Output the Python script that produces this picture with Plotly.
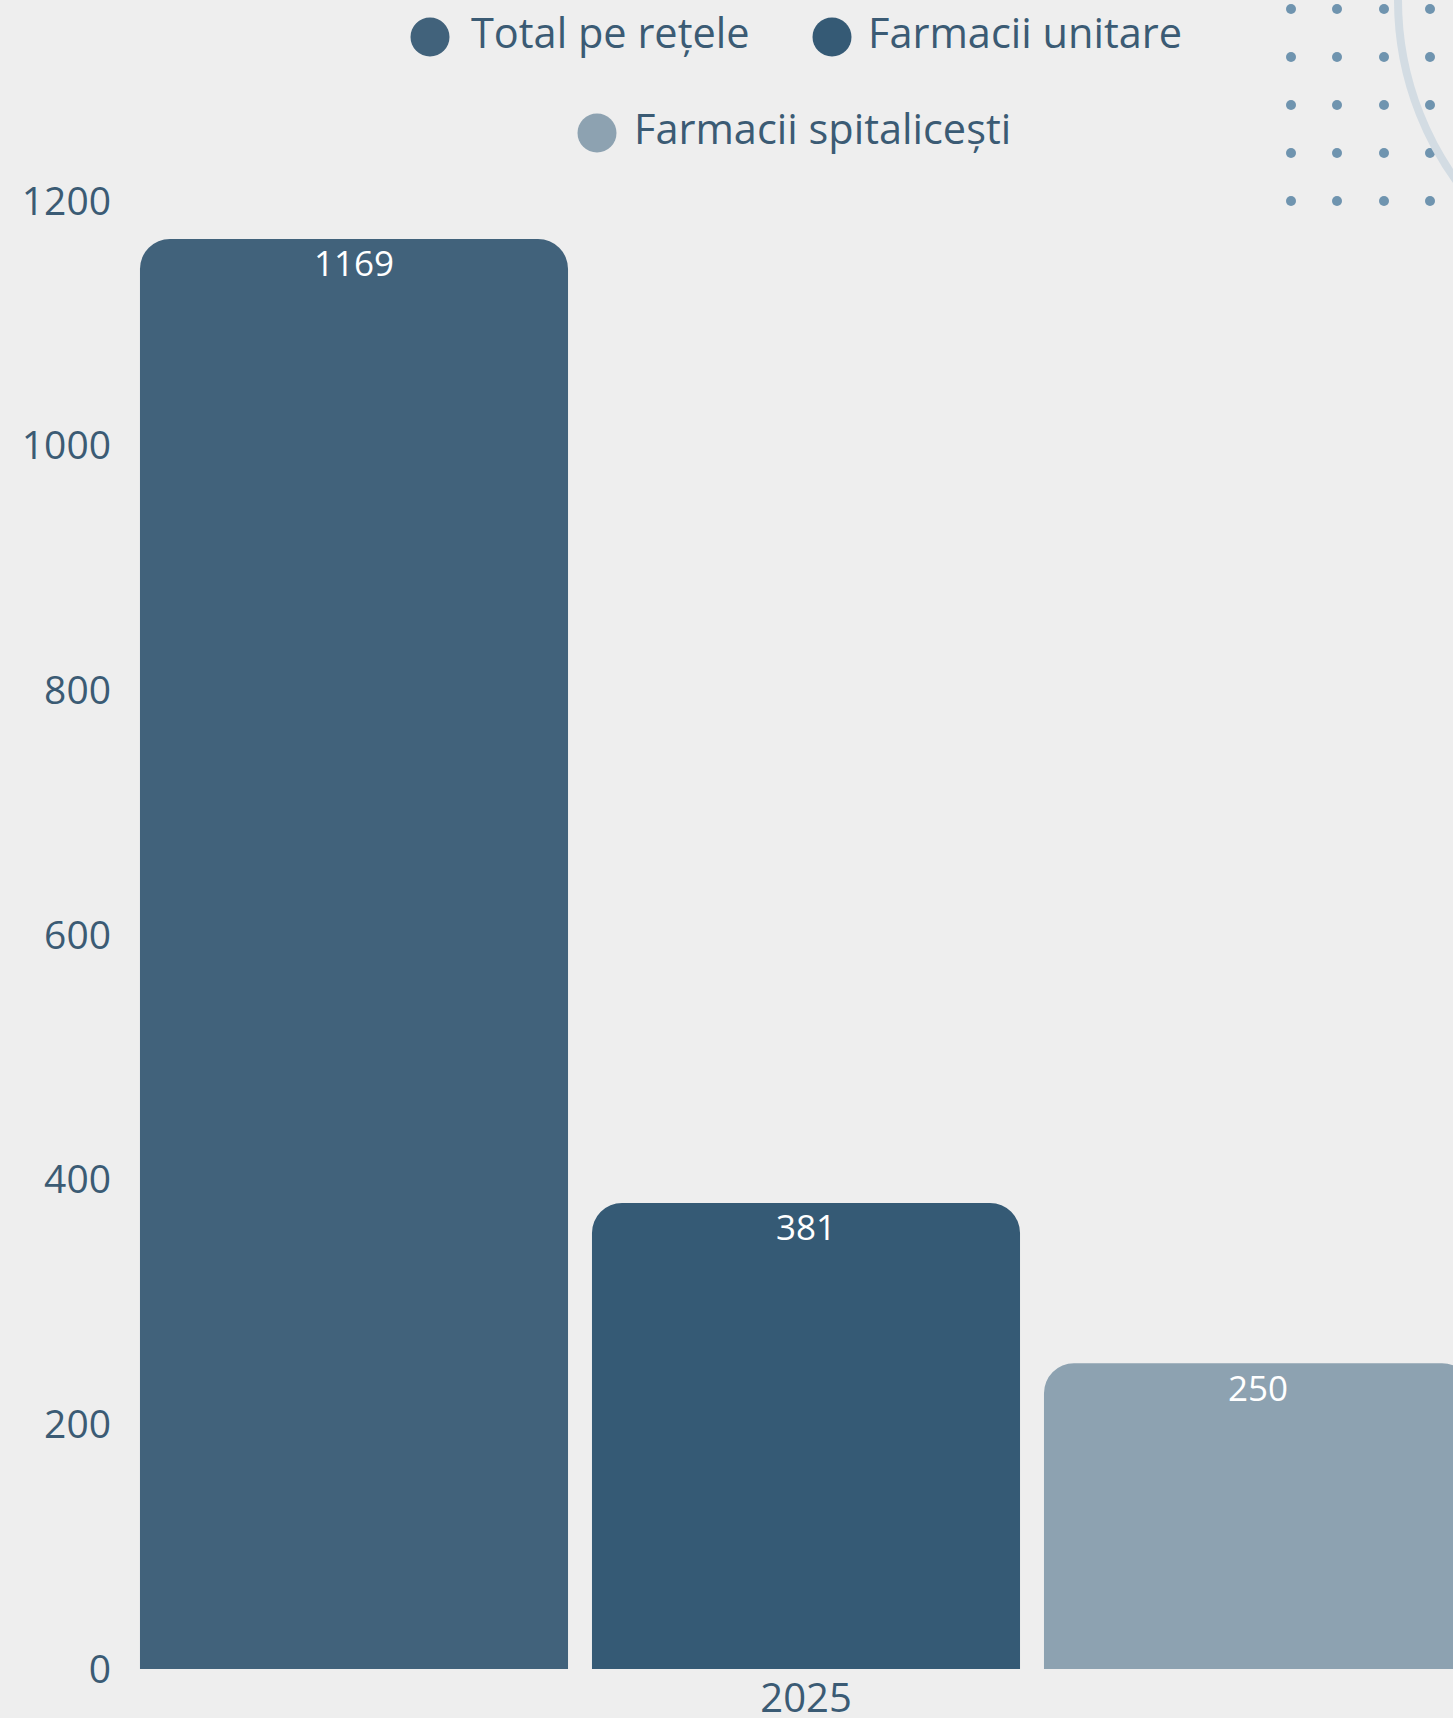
import plotly.graph_objects as go

# Series and values
years = ["2025"]
series_names = ["Total pe rețele", "Farmacii unitare", "Farmacii spitalicești"]
series_values = [[1169], [381], [250]]
series_colors = ["#41627B", "#355A75", "#8DA2B1"]
y_ticks = [0, 200, 400, 600, 800, 1000, 1200]

FONT = "Open Sans"
TEXT_COLOR = "#3B5B74"
W, H = 1453, 1718
ML, MR, MT, MB = 120, 0, 201, 49
PW, PH = W - ML - MR, H - MT - MB

# group of three bars spans 1356 px centred at x=806
GROUP_PX = 1356
CENTRE_PX = 806
SLOT_PX = GROUP_PX / len(series_names)


def fx(x):
    return (x - ML) / PW


def fy(y):
    return (H - MB - y) / PH


fig = go.Figure()
for name, vals, col in zip(series_names, series_values, series_colors):
    fig.add_trace(go.Bar(
        x=years, y=vals, name=name,
        marker=dict(color=col, line=dict(width=0)),
        showlegend=False,
    ))

shapes = []
annotations = []

# value labels just under the top of each bar (x given as category index)
n = len(series_names)
for i, vals in enumerate(series_values):
    for ci, v in enumerate(vals):
        annotations.append(dict(
            x=ci, y=v, xref="x", yref="y", text=str(v), showarrow=False,
            xanchor="center", yanchor="middle",
            xshift=(i - (n - 1) / 2) * SLOT_PX, yshift=-24,
            font=dict(family=FONT, size=35, color="white"),
        ))

# legend: circle swatches with labels, two centred rows
legend_items = [
    (430, 37, 469, 32),
    (832, 37, 866, 32),
    (597, 133, 632, 128),
]
for (cx, cy, tx, ty), name, col in zip(legend_items, series_names, series_colors):
    r = 19.5
    shapes.append(dict(type="circle", xref="paper", yref="paper",
                       x0=fx(cx - r), x1=fx(cx + r), y0=fy(cy + r), y1=fy(cy - r),
                       fillcolor=col, line=dict(width=0), layer="above"))
    annotations.append(dict(text=name, xref="paper", yref="paper",
                            x=fx(tx), y=fy(ty), xanchor="left", yanchor="middle",
                            showarrow=False,
                            font=dict(family=FONT, size=41.5, color=TEXT_COLOR)))

# decorative dot grid and arc in the top-right corner
for gx in [1291, 1337, 1384, 1430, 1477]:
    for gy in [9, 57, 105, 153, 201]:
        shapes.append(dict(type="circle", xref="paper", yref="paper",
                           x0=fx(gx - 5), x1=fx(gx + 5), y0=fy(gy + 5), y1=fy(gy - 5),
                           fillcolor="#6F94AF", line=dict(width=0), layer="below"))
arc_cx, arc_cy, arc_r = 1707, 0, 309
shapes.append(dict(type="circle", xref="paper", yref="paper",
                   x0=fx(arc_cx - arc_r), x1=fx(arc_cx + arc_r),
                   y0=fy(arc_cy + arc_r), y1=fy(arc_cy - arc_r),
                   fillcolor="rgba(0,0,0,0)", line=dict(color="#D3DCE3", width=8),
                   layer="below"))

x_range = [(ML - CENTRE_PX) / GROUP_PX, (W - MR - CENTRE_PX) / GROUP_PX]

fig.update_layout(
    width=W, height=H,
    margin=dict(l=ML, r=MR, t=MT, b=MB, pad=0),
    paper_bgcolor="#EEEEEE", plot_bgcolor="rgba(0,0,0,0)",
    barmode="group", bargap=0, bargroupgap=0.053, barcornerradius=30,
    showlegend=False,
    shapes=shapes, annotations=annotations,
    font=dict(family=FONT, color=TEXT_COLOR),
    xaxis=dict(type="category", range=x_range, showgrid=False, zeroline=False,
               showline=False, ticks="", automargin=False,
               tickfont=dict(size=40, color=TEXT_COLOR, family=FONT),
               ticklabelstandoff=2),
    yaxis=dict(range=[0, 1200], tickvals=y_ticks, showgrid=False, zeroline=False,
               showline=False, ticks="", automargin=False,
               tickfont=dict(size=39, color=TEXT_COLOR, family=FONT),
               ticklabelstandoff=8),
)

fig.write_html("out.html")
